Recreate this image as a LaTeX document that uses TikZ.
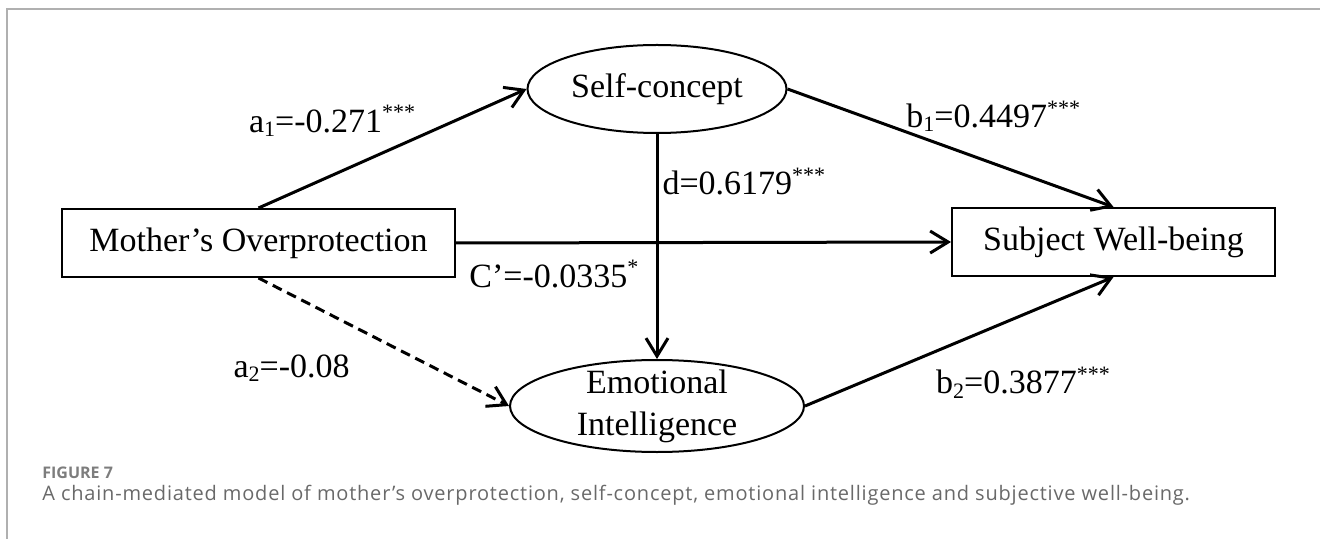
\documentclass[tikz,border=0pt]{standalone}
\usepackage{fontspec}
\setmainfont{Liberation Serif}
\newfontfamily\capfont[LetterSpace=4]{Open Sans}
\newfontfamily\figfont{Open Sans}
\usepackage{tikz}
\usetikzlibrary{arrows.meta}
\usetikzlibrary{shapes,fit,calc,positioning}
\definecolor{framegray}{RGB}{176,176,176}
\definecolor{capgray}{RGB}{105,105,105}
\definecolor{figgray}{RGB}{125,125,125}
\newcommand{\sbt}[1]{\raisebox{-0.12em}{\fontsize{11}{11}\selectfont #1}}
\newcommand{\spt}[1]{\raisebox{0.36em}{\fontsize{11}{11}\selectfont #1}}

\tikzset{
	var/.style={draw, line width=1pt, rectangle, minimum height=34pt, inner sep=0pt, font=\fontsize{17}{21}\selectfont},
	med/.style={draw, line width=1pt, ellipse, inner sep=0pt, minimum height=44pt, font=\fontsize{17}{21}\selectfont},
	eff/.style={line width=1.5pt, -{Straight Barb[length=9pt,width=11pt]}},
	coef/.style={inner sep=0pt, font=\fontsize{17}{21}\selectfont},
}

\begin{document}
\begin{tikzpicture}[x=0.5pt,y=-0.5pt]
			\useasboundingbox (0,0) rectangle (1320,539);
			% Define nodes
			\node[var, minimum width=196.5pt] (mo) at (258.5,243) {Mother’s Overprotection}; %
			\node[var, minimum width=161.5pt] (sw) at (1113.5,242) {Subject Well-being}; %
			\node[med, minimum width=129.5pt] (sc) at (657,89) {Self-concept}; %
			\node[med, minimum width=147pt, minimum height=46pt,
				label={[coef, align=center]center:Emotional\\Intelligence}] (ei) at (657,406) {}; %
			%%add edge
			\draw[eff] (mo.north) -- node[coef, pos=.59, anchor=south east] {a\sbt{1}=-0.271\spt{***}} (sc.west); %
			\draw[eff] (sc.east) -- node[coef, pos=.36, anchor=south west, yshift=-1pt] {b\sbt{1}=0.4497\spt{***}} (sw.north); %
			\draw[eff] (mo.east) -- node[coef, pos=.024, anchor=north west, yshift=-8pt] {C’=-0.0335\spt{*}} (sw.west); %
			\draw[eff] (sc.south) -- node[coef, pos=.21, anchor=west, xshift=2pt] {d=0.6179\spt{***}} (ei.north); %
			\draw[eff, dashed, dash pattern=on 5pt off 3pt] (mo.south) -- node[coef, pos=.37, anchor=north east, yshift=-14pt] {a\sbt{2}=-0.08} (ei.west); %
			\draw[eff] (ei.east) -- node[coef, pos=.42, anchor=north west, yshift=-7pt] {b\sbt{2}=0.3877\spt{***}} (sw.south); %
			%%frame and caption
			\draw[framegray, line width=0.8pt] (7,539) -- (7,9) -- (1320,9); %
			\node[anchor=west, inner sep=0pt, text=figgray, font=\figfont\fontsize{8}{9}\selectfont\bfseries] (fig) at (42,473) {FIGURE 7}; %
			\node[anchor=west, inner sep=0pt, text=capgray, font=\capfont\fontsize{10}{12}\selectfont] (cap) at (42,495) {A chain-mediated model of mother’s overprotection, self-concept, emotional intelligence and subjective well-being.}; %
\end{tikzpicture}
\end{document}
